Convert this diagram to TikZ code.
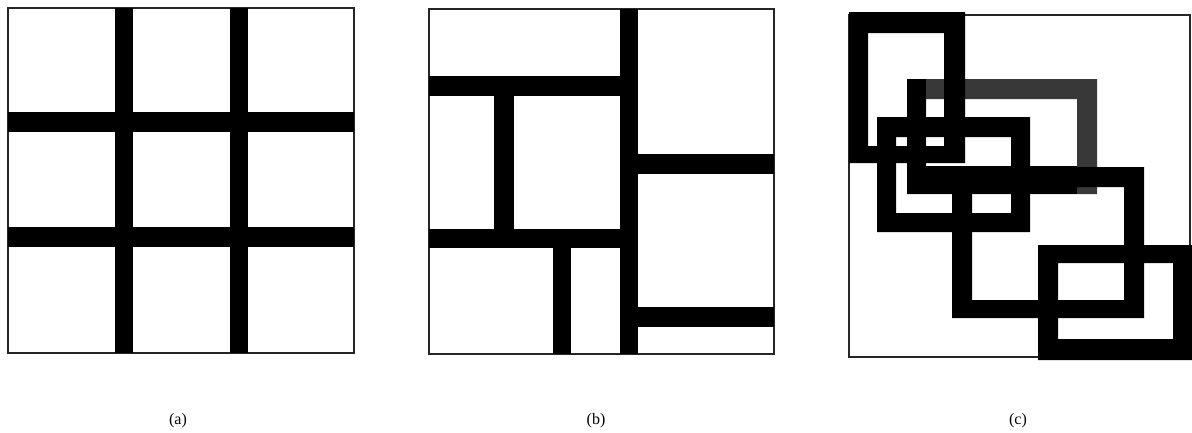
\documentclass[tikz,border=0pt]{standalone}
\usepackage{fontspec}
\setmainfont{Liberation Serif}
\begin{document}
\begin{tikzpicture}[x=1pt,y=-1pt,
  frame/.style={draw=black!85,line width=1.3pt},
  bar/.style={fill=black},
  graybar/.style={fill=black!78},
  lab/.style={font=\fontsize{16}{18}\selectfont,inner sep=0pt}]
\useasboundingbox (0,0) rectangle (1192,432);
% ---------- panel (a)
\draw[frame] (8,8) rectangle (354,353);
\fill[bar] (115,8) rectangle (133,353);
\fill[bar] (230,8) rectangle (248,353);
\fill[bar] (8,112) rectangle (354,132);
\fill[bar] (8,227) rectangle (354,247);
\node[lab] (la) at (178,421) {(a)};
% ---------- panel (b)
\draw[frame] (429,9) rectangle (774,354);
\fill[bar] (620,9) rectangle (638,354);
\fill[bar] (429,76) rectangle (620,96);
\fill[bar] (494,96) rectangle (514,229);
\fill[bar] (429,229) rectangle (620,248);
\fill[bar] (553,248) rectangle (571,354);
\fill[bar] (638,154) rectangle (774,174);
\fill[bar] (638,307) rectangle (774,327);
\node[lab] (lb) at (596,421) {(b)};
% ---------- panel (c)
\draw[frame] (849,15) rectangle (1190,357);
% R2 (dark gray ring, left and bottom black)
\fill[graybar,even odd rule] (907,79) rectangle (1097,194) (926,99) rectangle (1077,166);
\fill[bar] (907,79) rectangle (926,194);
\fill[bar] (907,166) rectangle (1077,194);
% R1
\fill[bar,even odd rule] (849,12) rectangle (965,163) (868,33) rectangle (944,146);
% R3
\fill[bar,even odd rule] (877,117) rectangle (1030,232) (896,137) rectangle (1011,213);
% R4
\fill[bar,even odd rule] (952,167) rectangle (1144,318) (972,187) rectangle (1124,300);
% R5
\fill[bar,even odd rule] (1038,245) rectangle (1192,360) (1058,263) rectangle (1173,339);
\node[lab] (lc) at (1018,421) {(c)};
\end{tikzpicture}
\end{document}
